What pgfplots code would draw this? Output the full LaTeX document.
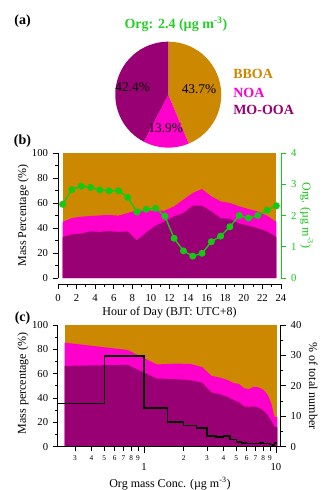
\documentclass[border=0pt]{standalone}
\usepackage{pgfplots}
\usepackage{pgfplotstable}
\pgfplotsset{compat=1.18}
\usetikzlibrary{calc}
\usepackage{fontspec}
\setmainfont{Liberation Serif}
\definecolor{bboa}{RGB}{204,136,0}
\definecolor{noa}{RGB}{255,0,204}
\definecolor{mooa}{RGB}{153,0,115}
\definecolor{orggreen}{RGB}{20,200,20}
\definecolor{ttlgreen}{RGB}{40,205,40}

\pgfplotstableread{
h mooa noa org
0.5 32.8 44.8 2.36
1.5 35.0 48.0 2.83
2.5 35.5 49.0 2.94
3.5 37.3 49.6 2.90
4.5 36.8 50.1 2.82
5.5 37.6 50.4 2.79
6.5 36.8 49.9 2.79
7.5 37.3 52.0 2.58
8.5 30.1 54.1 2.11
9.5 36.5 54.1 2.20
10.5 41.9 53.9 2.23
11.5 45.3 53.9 1.98
12.5 49.3 57.3 1.27
13.5 52.0 62.7 0.87
14.5 57.9 68.0 0.70
15.5 57.9 71.2 0.79
16.5 53.3 65.3 1.16
17.5 48.0 61.3 1.34
18.5 47.2 60.0 1.64
19.5 43.5 57.3 2.00
20.5 41.9 55.2 1.92
21.5 39.7 53.3 2.00
22.5 37.3 49.9 2.17
23.5 32.8 44.8 2.31
}\diurnal

\pgfplotstableread{
c mooa noa
0.25 66.4 85.5
0.75 67.3 79.5
1.25 56.0 67.6
1.75 55.5 68.3
2.25 54.5 68.0
2.75 52.7 65.5
3.25 44.5 58.2
3.75 43.2 56.8
4.25 41.2 55.0
4.75 38.5 52.5
5.25 36.5 51.5
5.75 33.0 48.0
6.25 32.8 47.3
6.75 33.2 49.2
7.25 32.2 49.0
7.75 31.0 47.8
8.25 28.5 45.5
8.75 25.4 41.8
9.25 21.0 35.0
9.75 16.4 24.6
10.25 16.4 24.6
}\conc

\pgfplotstableread{
c n
0.221 14.2
0.5 29.8
1.0 12.7
1.5 8.1
2.0 7.0
2.5 6.2
3.0 3.6
3.5 3.2
4.0 3.5
4.5 2.3
5.0 1.6
5.5 1.2
6.0 1.1
6.5 1.1
7.0 1.1
7.5 1.2
8.0 1.1
8.5 1.0
9.0 0.7
9.5 0.4
9.75 1.2
10.2 1.2
}\numfrac

\newcommand{\tickfont}{\fontsize{8}{9}\selectfont}
\newcommand{\labfont}{\fontsize{9}{10}\selectfont}

\pgfplotsset{
  every axis/.append style={
    /pgf/number format/assume math mode=true,
    tick label style={font=\tickfont},
    label style={font=\labfont},
    tick align=outside,
    major tick length=4pt,
    minor tick length=2pt,
    axis line style={line width=0.6pt},
    every tick/.style={line width=0.6pt, black},
  },
}

\begin{document}
\begin{tikzpicture}
\useasboundingbox (0,0) rectangle (241.5pt,-367.5pt);

% ---------- (a) pie ----------
\begin{axis}[at={(126.2pt,-71.0pt)}, anchor=center, scale only axis,
  width=79.5pt, height=79.5pt, xmin=-1, xmax=1, ymin=-1, ymax=1,
  hide axis, clip=false]
\pgfmathsetmacro{\aB}{-3.6*43.7}
\pgfmathsetmacro{\aN}{-3.6*13.9}
\pgfmathsetmacro{\aM}{-3.6*42.4}
\fill[bboa] (axis cs:0,0) -- (axis cs:0,1) arc[start angle=90, delta angle=\aB, radius=39.75pt] -- cycle;
\pgfmathsetmacro{\sN}{90+\aB}
\fill[noa] (axis cs:0,0) -- ($(axis cs:0,0)+(\sN:39.75pt)$) arc[start angle=\sN, delta angle=\aN, radius=39.75pt] -- cycle;
\pgfmathsetmacro{\sM}{90+\aB+\aN}
\fill[mooa] (axis cs:0,0) -- ($(axis cs:0,0)+(\sM:39.75pt)$) arc[start angle=\sM, delta angle=\aM, radius=39.75pt] -- cycle;
\end{axis}
\node[font=\fontsize{10}{12}\selectfont] at (149.25pt,-66.75pt) {43.7\%};
\node[font=\fontsize{10}{12}\selectfont] at (124.3pt,-96pt) {13.9\%};
\node[font=\fontsize{10}{12}\selectfont] at (99.5pt,-65.25pt) {42.4\%};
\node[anchor=west, font=\fontsize{10.5}{12}\selectfont\bfseries, text=bboa, inner sep=0pt] at (174.75pt,-55.5pt) {BBOA};
\node[anchor=west, font=\fontsize{10.5}{12}\selectfont\bfseries, text=noa, inner sep=0pt] at (174.75pt,-69.5pt) {NOA};
\node[anchor=west, font=\fontsize{10.5}{12}\selectfont\bfseries, text=mooa, inner sep=0pt] at (174.75pt,-82.5pt) {MO-OOA};
\node[font=\fontsize{10.5}{12}\selectfont\bfseries, text=ttlgreen] at (132pt,-18pt) {Org: 2.4 (µg m\textsuperscript{-3})};
\node[font=\fontsize{10.5}{12}\selectfont\bfseries] at (16.9pt,-16pt) {(a)};
\node[font=\fontsize{10.5}{12}\selectfont\bfseries] at (16.9pt,-105.5pt) {(b)};
\node[font=\fontsize{10.5}{12}\selectfont\bfseries] at (16.9pt,-238.5pt) {(c)};

% ---------- (b) diurnal ----------
\begin{axis}[at={(43.5pt,-114.75pt)}, anchor=north west, scale only axis,
  width=167.25pt, height=93.75pt,
  xmin=0, xmax=24, ymin=0, ymax=100,
  axis x line*=bottom, axis y line*=left,
  axis x line shift=4.5pt,
  xtick={0,2,...,24}, minor xtick={1,3,...,23},
  ytick={0,20,...,100}, minor ytick={10,30,...,90},
  xlabel={Hour of Day (BJT: UTC+8)},
  ylabel={Mass Percentage (\%)},
  xlabel style={at={(axis description cs:0.5,-0.278)}, anchor=center},
  ylabel style={at={(axis description cs:-0.156,0.5)}, anchor=center},
]
\addplot[draw=none, fill=bboa] coordinates {(0.5,100) (23.5,100)} \closedcycle;
\addplot[draw=none, fill=noa] table[x=h, y=noa] {\diurnal} \closedcycle;
\addplot[draw=none, fill=mooa] table[x=h, y=mooa] {\diurnal} \closedcycle;
\end{axis}
\begin{axis}[at={(43.5pt,-114.75pt)}, anchor=north west, scale only axis,
  width=167.25pt, height=93.75pt,
  xmin=0, xmax=24, ymin=0, ymax=4,
  axis x line=none, axis y line*=right,
  ytick={0,1,...,4},
  y axis line style={orggreen},
  every tick/.style={line width=0.6pt, orggreen},
  yticklabel style={text=orggreen},
  ylabel={Org. (µg m\textsuperscript{-3})},
  ylabel style={at={(axis description cs:1.115,0.5)}, anchor=center, rotate=180, text=orggreen},
]
\addplot[orggreen, line width=1pt, mark=*, mark size=2.1pt, mark options={fill=orggreen, draw=orggreen}] table[x=h, y=org] {\diurnal};
\end{axis}

% ---------- (c) vs concentration ----------
\begin{axis}[at={(43.125pt,-243.75pt)}, anchor=north west, scale only axis,
  width=167.4pt, height=91.3pt,
  xmode=log, xmin=0.221, xmax=10.86, ymin=0, ymax=100,
  axis x line*=bottom, axis y line*=left,
  axis on top,
  xtick={0.3,0.4,0.5,0.6,0.7,0.8,0.9,2,3,4,5,6,7,8,9},
  xticklabels={3,4,5,6,7,8,9,2,3,4,5,6,7,8,9},
  minor xtick={},
  major tick length=3.5pt,
  xticklabel style={font=\fontsize{5.5}{6}\selectfont},
  extra x ticks={1,10},
  extra x tick labels={1,10},
  extra x tick style={major tick length=5pt, xticklabel style={font=\tickfont, yshift=-4pt}},
  ytick={0,20,...,100}, minor ytick={10,30,...,90},
  xlabel={Org mass Conc. (µg m\textsuperscript{-3})},
  ylabel={Mass percentage (\%)},
  xlabel style={at={(axis description cs:0.504,-0.30)}, anchor=center},
  ylabel style={at={(axis description cs:-0.155,0.52)}, anchor=center},
]
\addplot[draw=none, fill=bboa] coordinates {(0.25,100) (10.25,100)} \closedcycle;
\addplot[draw=none, fill=noa] table[x=c, y=noa] {\conc} \closedcycle;
\addplot[draw=none, fill=mooa] table[x=c, y=mooa] {\conc} \closedcycle;
\end{axis}
\begin{axis}[at={(43.125pt,-243.75pt)}, anchor=north west, scale only axis,
  width=167.4pt, height=91.3pt,
  xmode=log, xmin=0.221, xmax=10.86, ymin=0, ymax=40,
  axis x line=none, axis y line*=right,
  ytick={0,10,...,40}, minor ytick={5,15,25,35},
  ylabel={\% of total number},
  ylabel style={at={(axis description cs:1.146,0.5)}, anchor=center, rotate=180},
]
\addplot[black, line width=1.1pt, const plot] table[x=c, y=n] {\numfrac};
\end{axis}
\end{tikzpicture}
\end{document}
